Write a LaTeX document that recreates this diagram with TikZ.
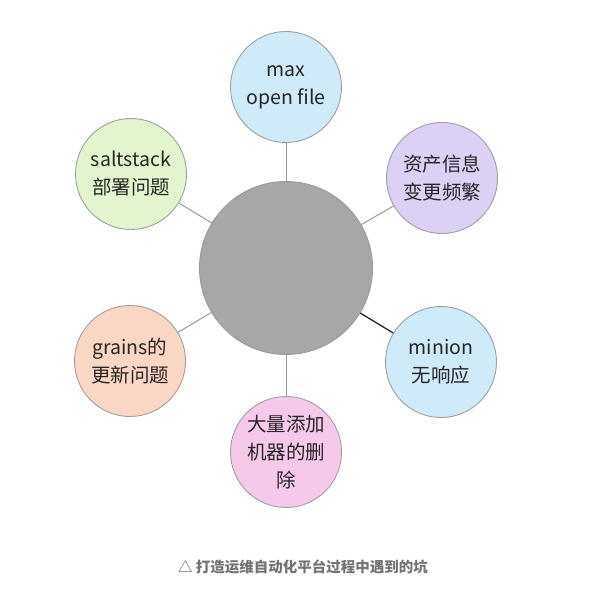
\documentclass[tikz,border=0pt]{standalone}
\usepackage{fontspec}
\setmainfont{Noto Sans CJK SC}
\usetikzlibrary{positioning}
\definecolor{hubgray}{HTML}{A7A6A8}
\definecolor{skyblue}{HTML}{CFEAF8}
\definecolor{lavender}{HTML}{DCD0F5}
\definecolor{pinkish}{HTML}{F6C8EA}
\definecolor{peach}{HTML}{FAD6C4}
\definecolor{mint}{HTML}{E3F5CE}
\tikzset{
    hub_circle/.style={
        circle, draw=gray!80, line width=0.9pt, fill=hubgray,
        minimum size=173pt, inner sep=0pt
    },
    leaf_circle/.style={
        circle, draw=gray!75, line width=0.9pt,
        minimum size=111pt, inner sep=0pt,
        align=center, font=\fontsize{19.5pt}{28pt}\selectfont, text=black!85
    },
    spoke/.style={draw=gray!80, line width=1pt},
    caption_lbl/.style={
        font=\fontsize{14.5pt}{16pt}\selectfont\bfseries, text=black!55
    }
}
\begin{document}
\begin{tikzpicture}[x=1pt, y=-1pt]
\useasboundingbox (0,0) rectangle (603,596);

\node[hub_circle] (hub) at (286, 268) {};

\node[leaf_circle, fill=skyblue] (maxfile) at (286, 87) {max\\open file};
\node[leaf_circle, fill=lavender] (asset) at (442, 178) {资产信息\\变更频繁};
\node[leaf_circle, fill=skyblue] (minion) at (441, 362) {minion\\无响应};
\node[leaf_circle, fill=pinkish] (remove) at (286, 452) {大量添加\\机器的删\\除};
\node[leaf_circle, fill=peach] (grains) at (130, 361) {grains的\\更新问题};
\node[leaf_circle, fill=mint] (salt) at (131, 174) {saltstack\\部署问题};

\draw[spoke] (hub) -- (maxfile);
\draw[spoke] (hub) -- (asset);
\draw[spoke, draw=black!85, line width=1.3pt] (hub) -- (minion);
\draw[spoke] (hub) -- (remove);
\draw[spoke] (hub) -- (grains);
\draw[spoke] (hub) -- (salt);

\node[caption_lbl] (caption) at (303, 567) {△ 打造运维自动化平台过程中遇到的坑};
\end{tikzpicture}
\end{document}
